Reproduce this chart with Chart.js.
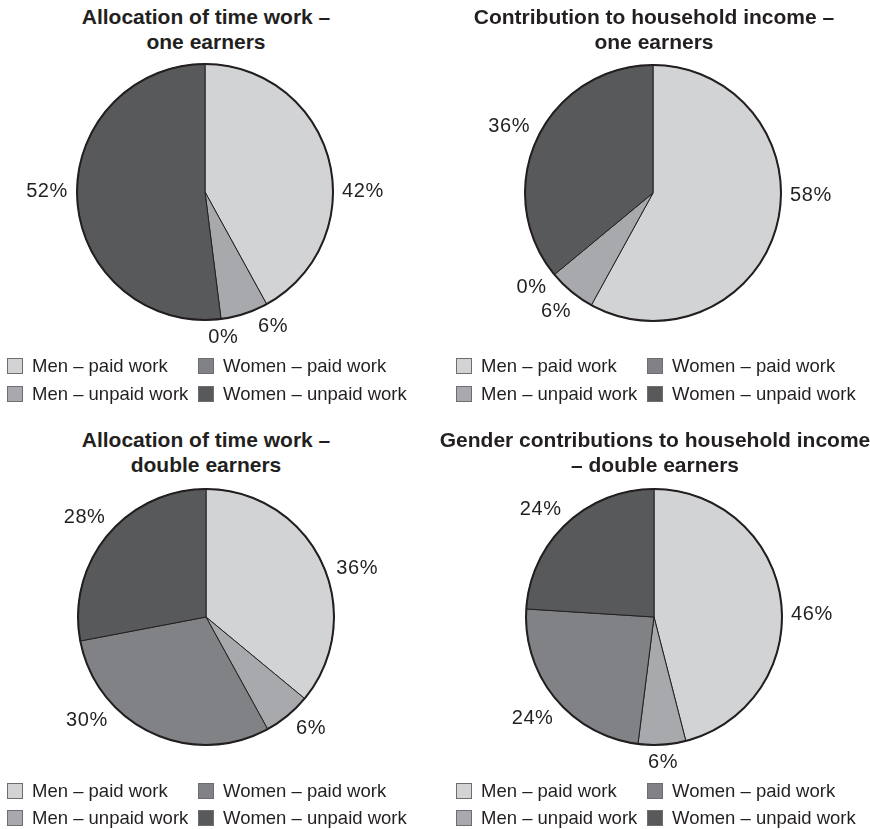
<!DOCTYPE html>
<html>
<head>
<meta charset="utf-8">
<script src="https://cdn.jsdelivr.net/npm/chart.js@4.4.1/dist/chart.umd.min.js"></script>
<style>
  body { margin: 0; background: #fff; }
  #page { position: relative; width: 870px; height: 829px; overflow: hidden; font-family: "Liberation Sans", Arial, sans-serif; color: #231f20; }
  .title { position: absolute; width: 500px; text-align: center; font-weight: bold; font-size: 21px; line-height: 25px; white-space: nowrap; }
  .pie { position: absolute; width: 400px; height: 330px; }
  .lg-box { position: absolute; width: 14px; height: 14px; border: 1px solid #6d6e71; }
  .lg-text { position: absolute; font-size: 18.5px; line-height: 20px; white-space: nowrap; }
</style>
</head>
<body>
<div id="page"></div>
<script>
const categories = ['Men – paid work', 'Men – unpaid work', 'Women – paid work', 'Women – unpaid work'];
const colors = ['#d1d3d4', '#a7a9ac', '#808285', '#58595b'];

const titleTimeOne = ['Allocation of time work –', 'one earners'];
const titleIncomeOne = ['Contribution to household income –', 'one earners'];
const titleTimeDouble = ['Allocation of time work –', 'double earners'];
const titleIncomeDouble = ['Gender contributions to household income', '– double earners'];

const timeOne = [42, 6, 0, 52];
const incomeOne = [58, 6, 0, 36];
const timeDouble = [36, 6, 30, 28];
const incomeDouble = [46, 6, 24, 24];

const page = document.getElementById('page');

// labels sit just outside the pie, along the middle of each slice
// (shift = small per-label turn in degrees, like the original's best-fit placement)
const outsideLabels = {
  id: 'outsideLabels',
  afterDatasetsDraw(chart, args, opts) {
    const ctx = chart.ctx;
    const meta = chart.getDatasetMeta(0);
    const values = chart.data.datasets[0].data;
    const shift = opts.shift || [];
    ctx.save();
    ctx.font = '20px "Liberation Sans", Arial, sans-serif';
    ctx.letterSpacing = '0.6px';
    ctx.fillStyle = '#231f20';
    ctx.textAlign = 'center';
    ctx.textBaseline = 'middle';
    meta.data.forEach((arc, i) => {
      const p = arc.getProps(['x', 'y', 'startAngle', 'endAngle', 'outerRadius'], true);
      const mid = (p.startAngle + p.endAngle) / 2 + (shift[i] || 0) * Math.PI / 180;
      const txt = values[i] + '%';
      const w = ctx.measureText(txt).width;
      const h = 14;
      const c = Math.cos(mid), s = Math.sin(mid);
      const d = p.outerRadius + 9 + Math.abs(c) * w / 2 + Math.abs(s) * h / 2;
      ctx.fillText(txt, p.x + c * d, p.y + s * d + 1);
    });
    // thicker outline round the whole pie
    const a = meta.data[0];
    ctx.beginPath();
    ctx.arc(a.x, a.y, a.outerRadius, 0, Math.PI * 2);
    ctx.lineWidth = 2;
    ctx.strokeStyle = '#231f20';
    ctx.stroke();
    ctx.restore();
  }
};

function makePanel(title, values, cx, cy, titleX, titleTop, legendBase, legendX, shift) {
  const t = document.createElement('div');
  t.className = 'title';
  t.style.left = (titleX - 250) + 'px';
  t.style.top = titleTop + 'px';
  t.innerHTML = title.join('<br>');
  page.appendChild(t);

  const wrap = document.createElement('div');
  wrap.className = 'pie';
  wrap.style.left = (cx - 200) + 'px';
  wrap.style.top = (cy - 165) + 'px';
  const cv = document.createElement('canvas');
  wrap.appendChild(cv);
  page.appendChild(wrap);

  new Chart(cv, {
    type: 'pie',
    data: {
      labels: categories,
      datasets: [{
        data: values,
        backgroundColor: colors,
        borderColor: '#231f20',
        borderWidth: 1,
        radius: 128
      }]
    },
    options: {
      responsive: true,
      maintainAspectRatio: false,
      animation: false,
      layout: { padding: 0 },
      plugins: {
        legend: { display: false },
        tooltip: { enabled: false },
        outsideLabels: { shift: shift }
      }
    },
    plugins: [outsideLabels]
  });

  categories.forEach((name, i) => {
    const col = Math.floor(i / 2), row = i % 2;
    const base = legendBase[row];
    const bx = legendX + col * 191;
    const box = document.createElement('div');
    box.className = 'lg-box';
    box.style.left = bx + 'px';
    box.style.top = (base - 14) + 'px';
    box.style.background = colors[i];
    page.appendChild(box);
    const tx = document.createElement('div');
    tx.className = 'lg-text';
    tx.style.left = (bx + 25) + 'px';
    tx.style.top = (base - 16.4) + 'px';
    tx.textContent = name;
    page.appendChild(tx);
  });
}

makePanel(titleTimeOne, timeOne, 205, 192, 206, 4, [372, 400], 7, [14, -9, 0, 4]);
makePanel(titleIncomeOne, incomeOne, 653, 193, 654, 4, [372, 400], 456, [-14, 0, 2, 0]);
makePanel(titleTimeDouble, timeDouble, 206, 617, 206, 427, [797, 824], 7, [7, -4, 24, 0]);
makePanel(titleIncomeDouble, incomeDouble, 654, 617, 655, 427, [797, 824], 456, [6, 0, 0, -3]);
</script>
</body>
</html>
